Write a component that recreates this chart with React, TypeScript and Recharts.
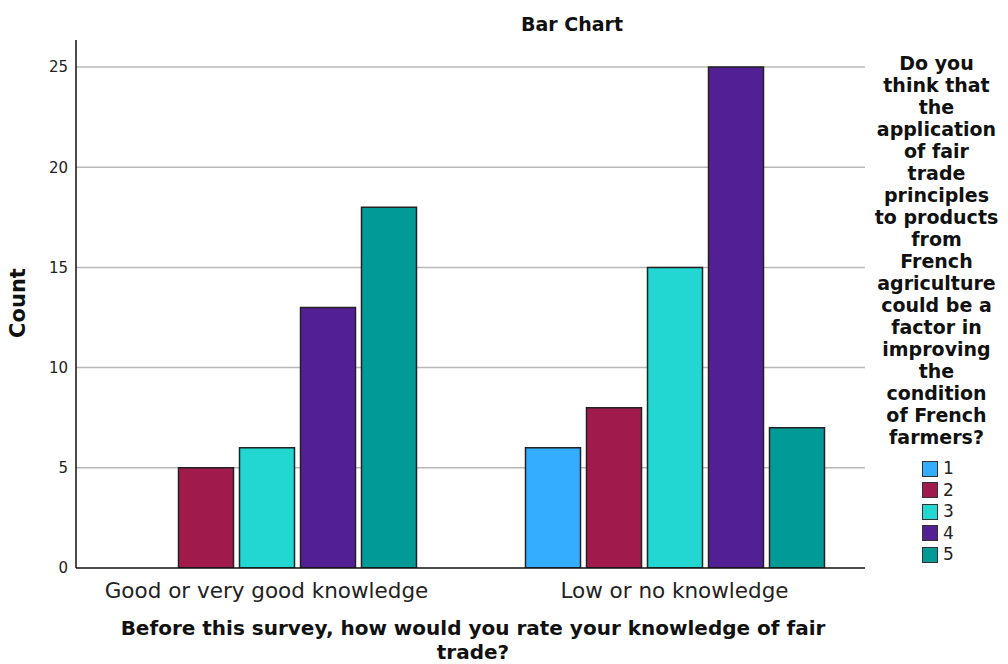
import React from 'react';
import { BarChart, Bar, XAxis, YAxis, CartesianGrid } from 'recharts';

const categories = ['Good or very good knowledge', 'Low or no knowledge'];
const seriesNames = ['1', '2', '3', '4', '5'];
const series1 = [0, 6];
const series2 = [5, 8];
const series3 = [6, 15];
const series4 = [13, 25];
const series5 = [18, 7];
const seriesColors = ['#33adff', '#a01a4c', '#22d6d2', '#521f94', '#009b96'];
const yTicks = [0, 5, 10, 15, 20, 25];
const gridValues = [5, 10, 15, 20, 25];

const chartTitle = 'Bar Chart';
const yTitle = 'Count';
const xTitleLines = ['Before this survey, how would you rate your knowledge of fair', 'trade?'];
const legendTitleLines = [
  'Do you', 'think that', 'the', 'application', 'of fair', 'trade', 'principles',
  'to products', 'from', 'French', 'agriculture', 'could be a', 'factor in',
  'improving', 'the', 'condition', 'of French', 'farmers?',
];

const allSeries = [series1, series2, series3, series4, series5];
const data = categories.map((c, i) => {
  const row: Record<string, string | number> = { category: c };
  seriesNames.forEach((s, j) => {
    row['s' + s] = allSeries[j][i];
  });
  return row;
});

const FONT = '"DejaVu Sans", sans-serif';

const LegendBlock = () => (
  <div style={{ position: 'absolute', left: 865, top: 40, width: 143, fontFamily: FONT }}>
    <div style={{ marginTop: 12, textAlign: 'center', fontWeight: 'bold', fontSize: 19, lineHeight: '22px', color: '#111' }}>
      {legendTitleLines.map((l, i) => (
        <div key={i} style={{ whiteSpace: 'nowrap' }}>{l}</div>
      ))}
    </div>
    <div style={{ marginTop: 10 }}>
      {seriesNames.map((s, i) => (
        <div key={s} style={{ display: 'flex', alignItems: 'center', height: 21.5, marginLeft: 57 }}>
          <div style={{ width: 16, height: 16, background: seriesColors[i], border: '1.5px solid #333', boxSizing: 'border-box' }} />
          <span style={{ marginLeft: 5, fontSize: 17, color: '#222', lineHeight: '21px' }}>{s}</span>
        </div>
      ))}
    </div>
  </div>
);

export default function App() {
  return (
    <div style={{ position: 'absolute', left: 0, top: 0, width: 1008, height: 664, background: '#fff' }}>
      <BarChart
        width={1008}
        height={664}
        data={data}
        margin={{ top: 40, right: 143, bottom: 0, left: 0 }}
        barSize={55}
        barGap={6}
      >
        <CartesianGrid horizontal vertical={false} horizontalValues={gridValues} stroke="#b8b8b8" strokeWidth={1.5} />
        <XAxis
          dataKey="category"
          height={96}
          tickLine={false}
          axisLine={{ stroke: '#111', strokeWidth: 1.5 }}
          padding={{ left: -13.5, right: -13.5 }}
          tick={{ fontSize: 21.5, fill: '#222', fontFamily: FONT }}
          tickMargin={9}
          interval={0}
        />
        <YAxis
          width={76}
          type="number"
          domain={[0, 26.35]}
          ticks={yTicks}
          allowDataOverflow
          tickLine={false}
          axisLine={{ stroke: '#111', strokeWidth: 1.5 }}
          tick={{ fontSize: 15, fill: '#222', fontFamily: FONT }}
        />
        {seriesNames.map((s, i) => (
          <Bar
            key={s}
            dataKey={'s' + s}
            name={s}
            fill={seriesColors[i]}
            stroke="#222"
            strokeWidth={1.5}
            isAnimationActive={false}
          />
        ))}
      </BarChart>
      <LegendBlock />
      <svg width={1008} height={664} style={{ position: 'absolute', left: 0, top: 0, pointerEvents: 'none' }}>
        <text x={572} y={31} textAnchor="middle" fontFamily={FONT} fontWeight="bold" fontSize={19} fill="#111">
          {chartTitle}
        </text>
        <text transform="translate(25,303) rotate(-90)" textAnchor="middle" fontFamily={FONT} fontWeight="bold" fontSize={21} fill="#111">
          {yTitle}
        </text>
        {xTitleLines.map((l, i) => (
          <text key={i} x={473} y={635 + i * 24} textAnchor="middle" fontFamily={FONT} fontWeight="bold" fontSize={20} fill="#111">
            {l}
          </text>
        ))}
      </svg>
    </div>
  );
}
